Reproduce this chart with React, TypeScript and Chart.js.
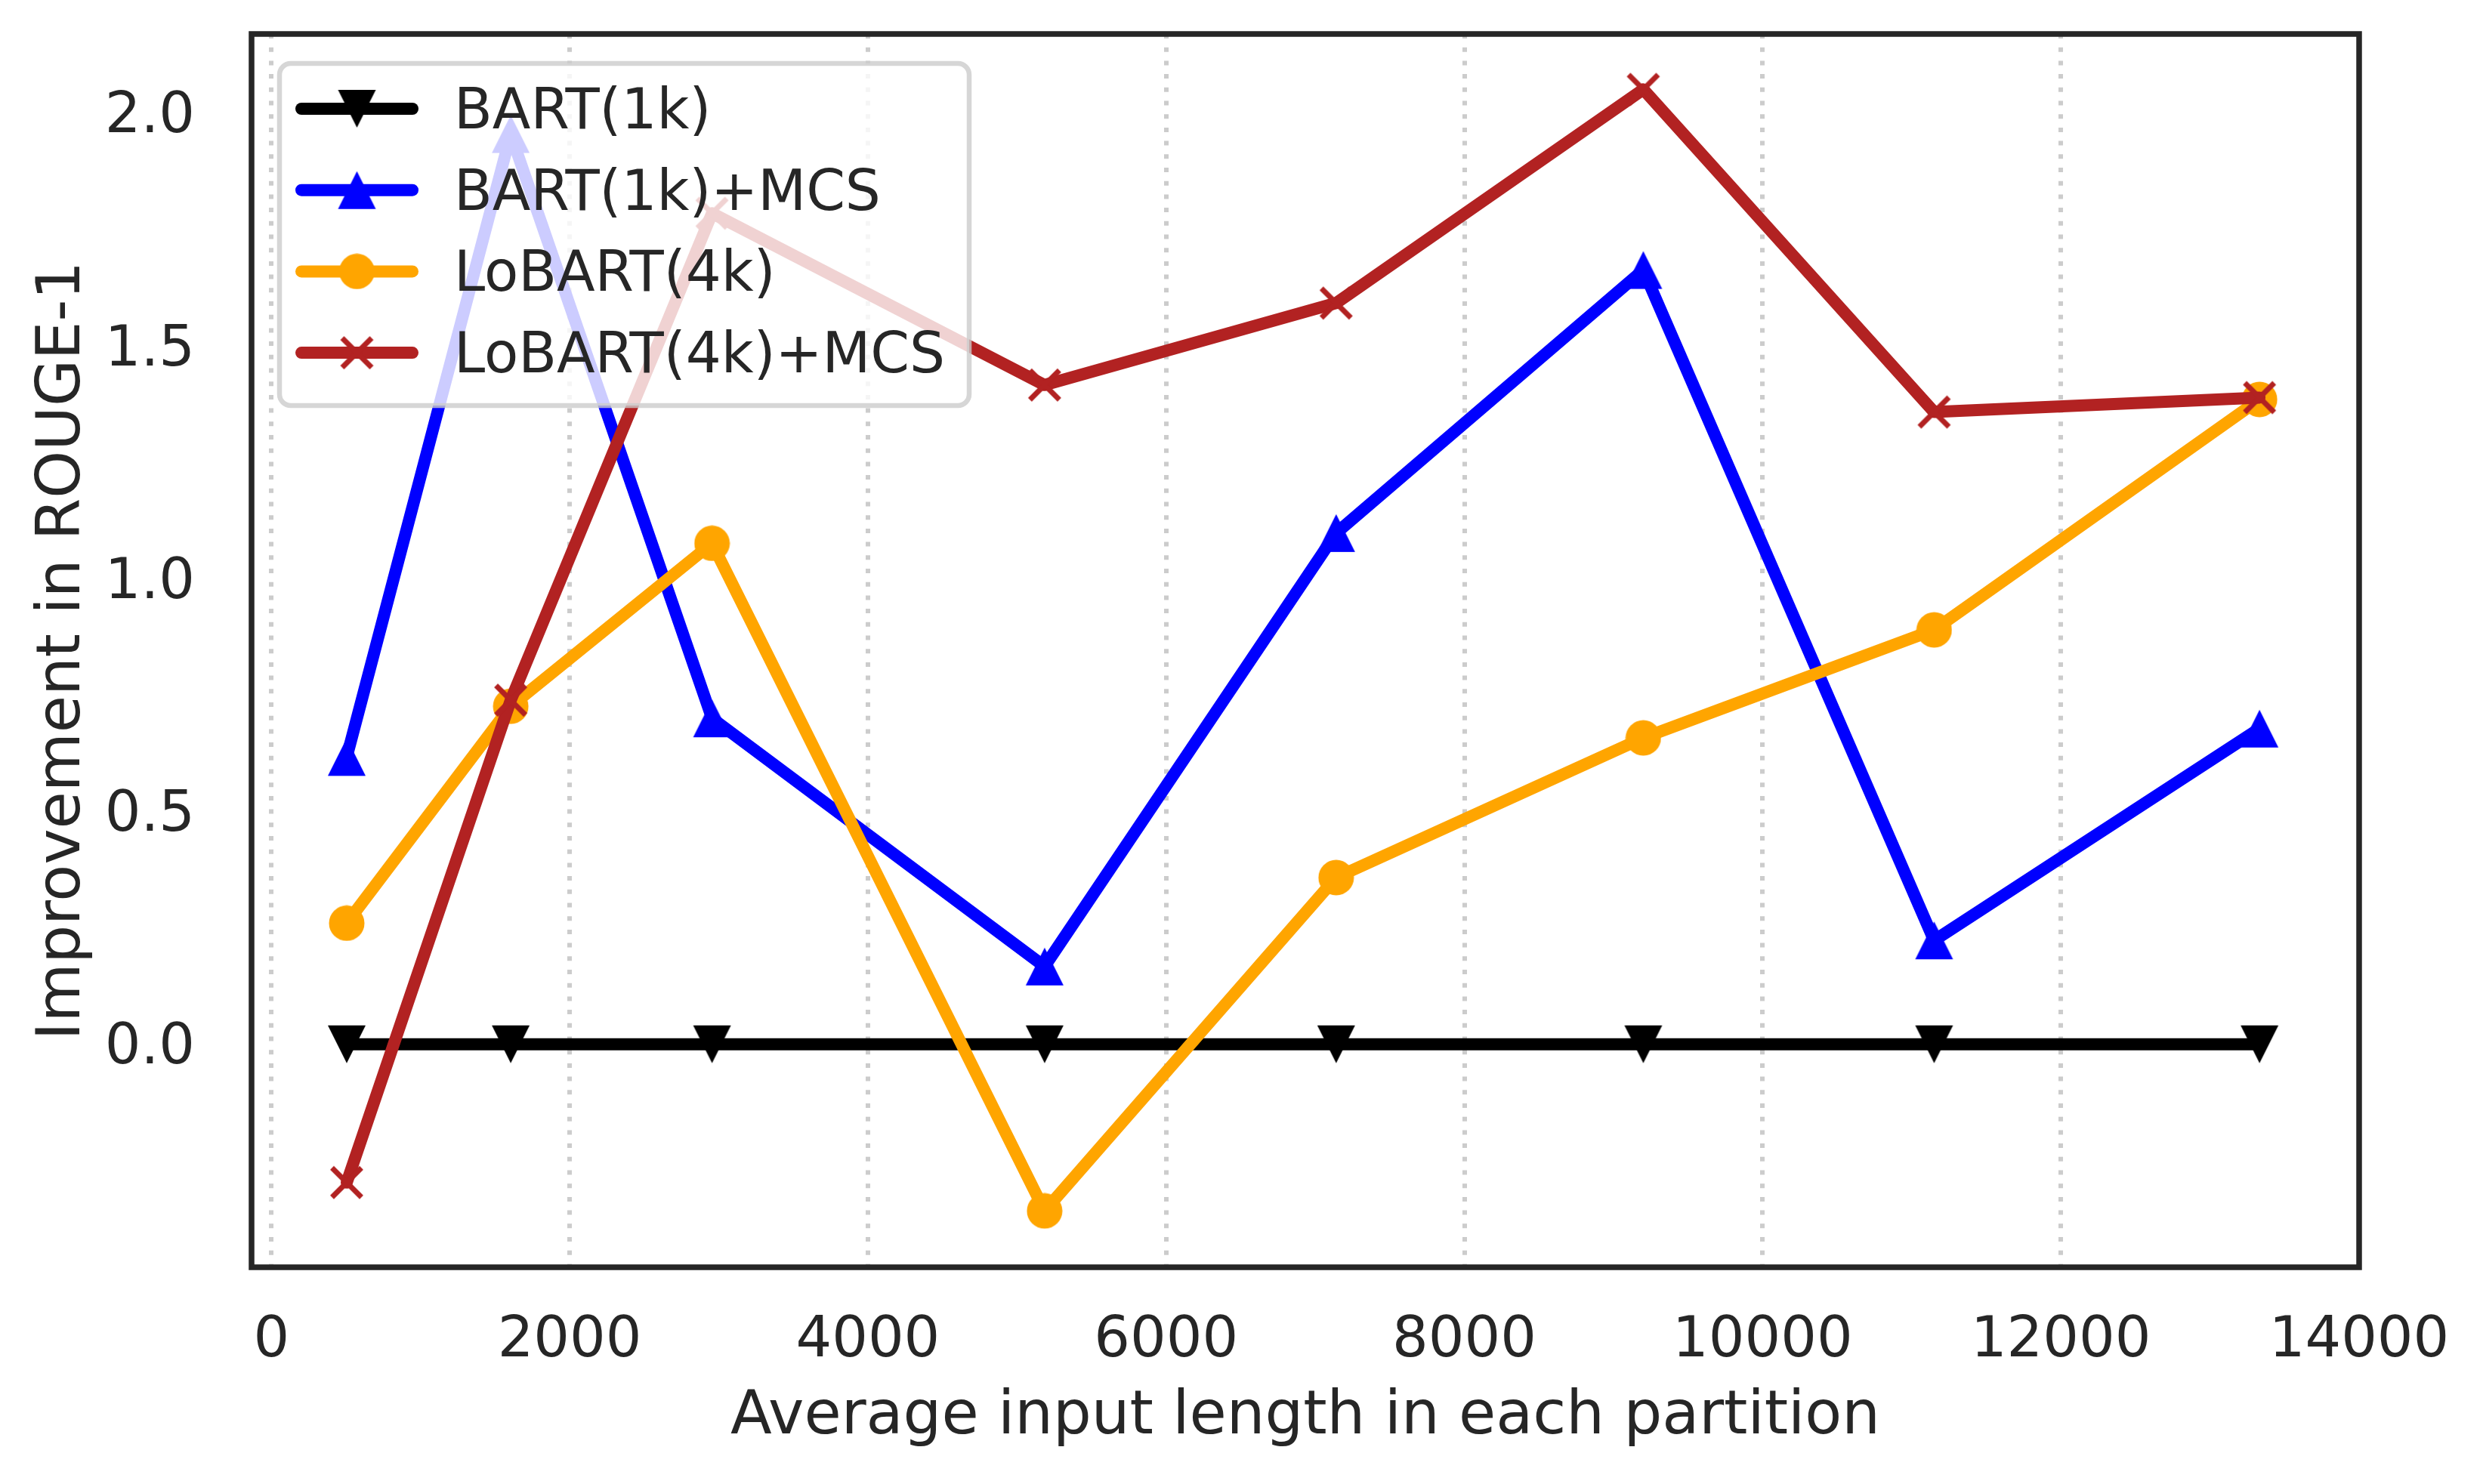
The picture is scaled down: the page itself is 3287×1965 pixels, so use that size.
import React, { useEffect, useRef } from "react";
import { Chart, registerables } from "chart.js";

Chart.register(...registerables);

// average input length of each partition (x) and ROUGE-1 improvement per system
const xValues = [505, 1605, 2955, 5185, 7140, 9200, 11150, 13332];
const bartBase = [0, 0, 0, 0, 0, 0, 0, 0];
const bartMcs = [0.617, 1.955, 0.7, 0.167, 1.098, 1.663, 0.223, 0.678];
const lobart = [0.26, 0.726, 1.076, -0.358, 0.358, 0.658, 0.89, 1.385];
const lobartMcs = [-0.297, 0.739, 1.785, 1.416, 1.592, 2.051, 1.358, 1.389];

const seriesLabels = ["BART(1k)", "BART(1k)+MCS", "LoBART(4k)", "LoBART(4k)+MCS"];
const seriesColors = ["#000000", "#0000ff", "#ffa500", "#b22222"];
const seriesMarkers = ["v", "^", "o", "x"];

const xTicks = [0, 2000, 4000, 6000, 8000, 10000, 12000, 14000];
const yTicks = [0, 0.5, 1, 1.5, 2];

const FONT = "'DejaVu Sans', sans-serif";
const INK = "#262626";

function makeMarker(kind: string, color: string): HTMLCanvasElement {
  const c = document.createElement("canvas");
  const s = kind === "v" || kind === "^" ? 52 : 48;
  c.width = s;
  c.height = s;
  const g = c.getContext("2d") as CanvasRenderingContext2D;
  g.fillStyle = color;
  g.strokeStyle = color;
  g.beginPath();
  if (kind === "v") {
    g.moveTo(1, 1);
    g.lineTo(51, 1);
    g.lineTo(26, 51);
    g.closePath();
    g.fill();
  } else if (kind === "^") {
    g.moveTo(26, 1);
    g.lineTo(51, 51);
    g.lineTo(1, 51);
    g.closePath();
    g.fill();
  } else if (kind === "o") {
    g.arc(24, 24, 23.5, 0, Math.PI * 2);
    g.fill();
  } else {
    g.lineWidth = 7;
    g.lineCap = "butt";
    g.moveTo(4.5, 4.5);
    g.lineTo(43.5, 43.5);
    g.moveTo(43.5, 4.5);
    g.lineTo(4.5, 43.5);
    g.stroke();
  }
  return c;
}

const framePlugin = {
  id: "frame",
  afterDatasetsDraw(chart: any) {
    const { ctx, chartArea } = chart;
    ctx.save();
    ctx.strokeStyle = INK;
    ctx.lineWidth = 7.5;
    ctx.strokeRect(chartArea.left, chartArea.top, chartArea.right - chartArea.left, chartArea.bottom - chartArea.top);
    ctx.restore();
  },
};

const legendPlugin = {
  id: "boxLegend",
  afterDraw(chart: any) {
    const ctx = chart.ctx as CanvasRenderingContext2D;
    const x0 = 370, y0 = 84, x1 = 1283, y1 = 537, r = 15;
    ctx.save();
    ctx.beginPath();
    ctx.moveTo(x0 + r, y0);
    ctx.arcTo(x1, y0, x1, y1, r);
    ctx.arcTo(x1, y1, x0, y1, r);
    ctx.arcTo(x0, y1, x0, y0, r);
    ctx.arcTo(x0, y0, x1, y0, r);
    ctx.closePath();
    ctx.fillStyle = "rgba(255,255,255,0.8)";
    ctx.fill();
    ctx.strokeStyle = "rgba(204,204,204,0.8)";
    ctx.lineWidth = 6.5;
    ctx.stroke();

    chart.data.datasets.forEach((ds: any, i: number) => {
      const y = 144 + i * 107.7;
      ctx.beginPath();
      ctx.strokeStyle = ds.borderColor;
      ctx.lineWidth = 16;
      ctx.lineCap = "round";
      ctx.moveTo(399, y);
      ctx.lineTo(546, y);
      ctx.stroke();
      const m = ds.pointStyle as HTMLCanvasElement;
      ctx.drawImage(m, 472.5 - m.width / 2, y - m.height / 2);
      ctx.fillStyle = INK;
      ctx.font = `74px ${FONT}`;
      ctx.textAlign = "left";
      ctx.textBaseline = "alphabetic";
      ctx.fillText(ds.label, 601, y + 26);
    });
    ctx.restore();
  },
};

const App = () => {
  const canvasRef = useRef<HTMLCanvasElement | null>(null);
  const chartRef = useRef<Chart | null>(null);

  useEffect(() => {
    document.body.style.margin = "0";
    if (chartRef.current) {
      chartRef.current.destroy();
    }
    const ctx = canvasRef.current?.getContext("2d");
    if (!ctx) return;

    const series = [bartBase, bartMcs, lobart, lobartMcs];
    const datasets = series.map((vals, i) => ({
      label: seriesLabels[i],
      data: xValues.map((x, j) => ({ x, y: vals[j] })),
      borderColor: seriesColors[i],
      backgroundColor: seriesColors[i],
      borderWidth: 16,
      borderJoinStyle: "round" as const,
      borderCapStyle: "round" as const,
      tension: 0,
      fill: false,
      pointStyle: makeMarker(seriesMarkers[i], seriesColors[i]),
      pointRadius: 25,
      pointBorderWidth: 0,
      order: series.length - i,
    }));

    chartRef.current = new Chart(ctx, {
      type: "line",
      data: { datasets },
      options: {
        animation: false,
        responsive: false,
        devicePixelRatio: 1,
        events: [],
        layout: { padding: { left: 0, top: 45, right: 164, bottom: 0 } },
        plugins: {
          legend: { display: false },
          tooltip: { enabled: false },
        },
        scales: {
          x: {
            type: "linear",
            min: -133,
            max: 14000,
            afterBuildTicks: (s: any) => {
              s.ticks = xTicks.map((v) => ({ value: v }));
            },
            afterFit: (s: any) => {
              s.height = 287;
              s.paddingLeft = 0;
              s.paddingRight = 0;
            },
            grid: { color: "#cccccc", lineWidth: 6, drawTicks: false },
            border: { display: false, dash: [6, 11.7] },
            ticks: {
              color: INK,
              font: { family: FONT, size: 75 },
              padding: 54,
              maxRotation: 0,
              autoSkip: false,
              callback: (v: any) => String(v),
            },
            title: {
              display: true,
              text: "Average input length in each partition",
              color: INK,
              font: { family: FONT, size: 80 },
              padding: { top: 0, bottom: 40 },
            },
          },
          y: {
            type: "linear",
            min: -0.479,
            max: 2.17,
            afterBuildTicks: (s: any) => {
              s.ticks = yTicks.map((v) => ({ value: v }));
            },
            afterFit: (s: any) => {
              s.width = 333;
              s.paddingTop = 0;
              s.paddingBottom = 0;
            },
            grid: { display: false },
            border: { display: false },
            ticks: {
              color: INK,
              font: { family: FONT, size: 75 },
              padding: 67,
              labelOffset: 6,
              callback: (v: any) => Number(v).toFixed(1),
            },
            title: {
              display: true,
              text: "Improvement in ROUGE-1",
              color: INK,
              font: { family: FONT, size: 80 },
              padding: { top: 36, bottom: 0 },
            },
          },
        },
      },
      plugins: [framePlugin, legendPlugin],
    });

    return () => {
      if (chartRef.current) {
        chartRef.current.destroy();
        chartRef.current = null;
      }
    };
  }, []);

  return (
    <div style={{ position: "absolute", left: 0, top: 0, width: 3287, height: 1965, background: "#ffffff" }}>
      <canvas ref={canvasRef} width={3287} height={1965} style={{ width: 3287, height: 1965, display: "block" }} />
    </div>
  );
};

export default App;
